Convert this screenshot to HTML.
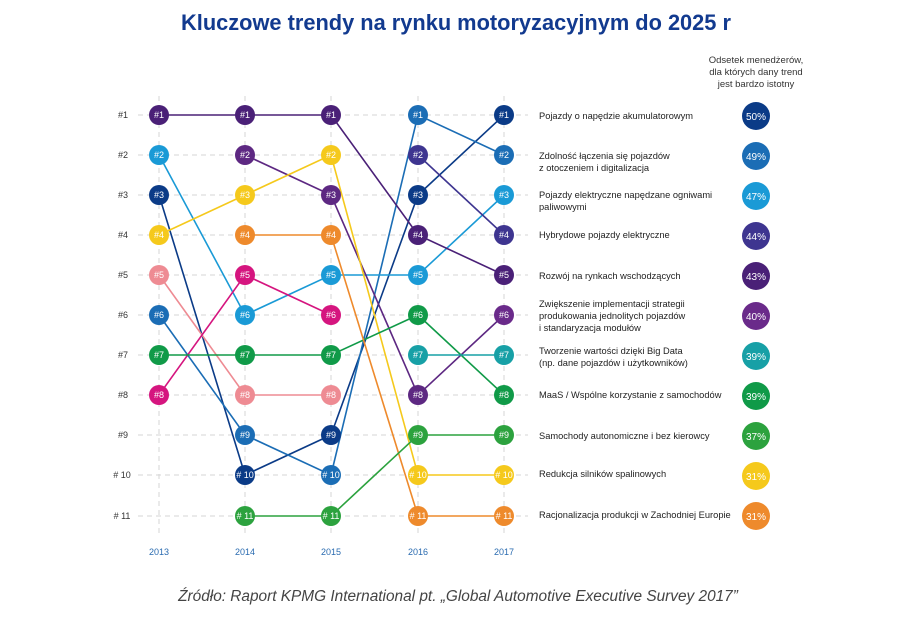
<!DOCTYPE html><html><head><meta charset="utf-8"><style>body{margin:0;background:#fff}svg{display:block}text{font-family:"Liberation Sans",sans-serif}</style></head><body>
<svg width="912" height="633" viewBox="0 0 912 633" xmlns="http://www.w3.org/2000/svg">
<text x="456" y="30" text-anchor="middle" font-size="21.8" font-weight="bold" fill="#123a8f">Kluczowe trendy na rynku motoryzacyjnym do 2025 r</text>
<g font-size="9.5" fill="#333" text-anchor="middle"><text x="756" y="63">Odsetek menedżerów,</text><text x="756" y="75">dla których dany trend</text><text x="756" y="87">jest bardzo istotny</text></g>
<g stroke="#d6d6d6" stroke-dasharray="5,4" stroke-width="1">
<line x1="138" x2="528" y1="115" y2="115"/><line x1="138" x2="528" y1="155" y2="155"/><line x1="138" x2="528" y1="195" y2="195"/><line x1="138" x2="528" y1="235" y2="235"/><line x1="138" x2="528" y1="275" y2="275"/><line x1="138" x2="528" y1="315" y2="315"/><line x1="138" x2="528" y1="355" y2="355"/><line x1="138" x2="528" y1="395" y2="395"/><line x1="138" x2="528" y1="435" y2="435"/><line x1="138" x2="528" y1="475" y2="475"/><line x1="138" x2="528" y1="516" y2="516"/>
<line x1="159" x2="159" y1="96" y2="535"/><line x1="245" x2="245" y1="96" y2="535"/><line x1="331" x2="331" y1="96" y2="535"/><line x1="418" x2="418" y1="96" y2="535"/><line x1="504" x2="504" y1="96" y2="535"/>
</g>
<g font-size="9" fill="#333" text-anchor="middle">
<text x="123" y="118">#1</text><text x="123" y="158">#2</text><text x="123" y="198">#3</text><text x="123" y="238">#4</text><text x="123" y="278">#5</text><text x="123" y="318">#6</text><text x="123" y="358">#7</text><text x="123" y="398">#8</text><text x="123" y="438">#9</text><text x="122" y="478"># 10</text><text x="122" y="519"># 11</text>
</g>
<g font-size="9" fill="#2a6bb0" text-anchor="middle"><text x="159" y="555">2013</text><text x="245" y="555">2014</text><text x="331" y="555">2015</text><text x="418" y="555">2016</text><text x="504" y="555">2017</text></g>
<g fill="none" stroke-width="1.6">
<polyline stroke="#0b3b87" points="159,195 245,475 331,435 418,195 504,115"/>
<polyline stroke="#1b6db5" points="159,315 245,435 331,475 418,115 504,155"/>
<polyline stroke="#1a9ad6" points="159,155 245,315 331,275 418,275 504,195"/>
<polyline stroke="#4a2077" points="159,115 245,115 331,115 418,235 504,275"/>
<polyline stroke="#5d2882" points="245,155 331,195 418,395 504,315"/>
<polyline stroke="#3e3590" points="418,155 504,235"/>
<polyline stroke="#f5c91c" points="159,235 245,195 331,155 418,475 504,475"/>
<polyline stroke="#ee8b93" points="159,275 245,395 331,395"/>
<polyline stroke="#d5157f" points="159,395 245,275 331,315"/>
<polyline stroke="#109a48" points="159,355 245,355 331,355 418,315 504,395"/>
<polyline stroke="#ee8a2c" points="245,235 331,235 418,516 504,516"/>
<polyline stroke="#2ca23e" points="245,516 331,516 418,435 504,435"/>
<polyline stroke="#17a0a6" points="418,355 504,355"/>
</g>
<g font-size="9" fill="#fff" text-anchor="middle">
<circle cx="159" cy="115" r="10" fill="#4a2077"/><text x="159" y="118">#1</text>
<circle cx="159" cy="155" r="10" fill="#1a9ad6"/><text x="159" y="158">#2</text>
<circle cx="159" cy="195" r="10" fill="#0b3b87"/><text x="159" y="198">#3</text>
<circle cx="159" cy="235" r="10" fill="#f5c91c"/><text x="159" y="238">#4</text>
<circle cx="159" cy="275" r="10" fill="#ee8b93"/><text x="159" y="278">#5</text>
<circle cx="159" cy="315" r="10" fill="#1b6db5"/><text x="159" y="318">#6</text>
<circle cx="159" cy="355" r="10" fill="#109a48"/><text x="159" y="358">#7</text>
<circle cx="159" cy="395" r="10" fill="#d5157f"/><text x="159" y="398">#8</text>
<circle cx="245" cy="115" r="10" fill="#4a2077"/><text x="245" y="118">#1</text>
<circle cx="245" cy="155" r="10" fill="#5d2882"/><text x="245" y="158">#2</text>
<circle cx="245" cy="195" r="10" fill="#f5c91c"/><text x="245" y="198">#3</text>
<circle cx="245" cy="235" r="10" fill="#ee8a2c"/><text x="245" y="238">#4</text>
<circle cx="245" cy="275" r="10" fill="#d5157f"/><text x="245" y="278">#5</text>
<circle cx="245" cy="315" r="10" fill="#1a9ad6"/><text x="245" y="318">#6</text>
<circle cx="245" cy="355" r="10" fill="#109a48"/><text x="245" y="358">#7</text>
<circle cx="245" cy="395" r="10" fill="#ee8b93"/><text x="245" y="398">#8</text>
<circle cx="245" cy="435" r="10" fill="#1b6db5"/><text x="245" y="438">#9</text>
<circle cx="245" cy="475" r="10" fill="#0b3b87"/><text x="245" y="478"># 10</text>
<circle cx="245" cy="516" r="10" fill="#2ca23e"/><text x="245" y="519"># 11</text>
<circle cx="331" cy="115" r="10" fill="#4a2077"/><text x="331" y="118">#1</text>
<circle cx="331" cy="155" r="10" fill="#f5c91c"/><text x="331" y="158">#2</text>
<circle cx="331" cy="195" r="10" fill="#5d2882"/><text x="331" y="198">#3</text>
<circle cx="331" cy="235" r="10" fill="#ee8a2c"/><text x="331" y="238">#4</text>
<circle cx="331" cy="275" r="10" fill="#1a9ad6"/><text x="331" y="278">#5</text>
<circle cx="331" cy="315" r="10" fill="#d5157f"/><text x="331" y="318">#6</text>
<circle cx="331" cy="355" r="10" fill="#109a48"/><text x="331" y="358">#7</text>
<circle cx="331" cy="395" r="10" fill="#ee8b93"/><text x="331" y="398">#8</text>
<circle cx="331" cy="435" r="10" fill="#0b3b87"/><text x="331" y="438">#9</text>
<circle cx="331" cy="475" r="10" fill="#1b6db5"/><text x="331" y="478"># 10</text>
<circle cx="331" cy="516" r="10" fill="#2ca23e"/><text x="331" y="519"># 11</text>
<circle cx="418" cy="115" r="10" fill="#1b6db5"/><text x="418" y="118">#1</text>
<circle cx="418" cy="155" r="10" fill="#3e3590"/><text x="418" y="158">#2</text>
<circle cx="418" cy="195" r="10" fill="#0b3b87"/><text x="418" y="198">#3</text>
<circle cx="418" cy="235" r="10" fill="#4a2077"/><text x="418" y="238">#4</text>
<circle cx="418" cy="275" r="10" fill="#1a9ad6"/><text x="418" y="278">#5</text>
<circle cx="418" cy="315" r="10" fill="#109a48"/><text x="418" y="318">#6</text>
<circle cx="418" cy="355" r="10" fill="#17a0a6"/><text x="418" y="358">#7</text>
<circle cx="418" cy="395" r="10" fill="#5d2882"/><text x="418" y="398">#8</text>
<circle cx="418" cy="435" r="10" fill="#2ca23e"/><text x="418" y="438">#9</text>
<circle cx="418" cy="475" r="10" fill="#f5c91c"/><text x="418" y="478"># 10</text>
<circle cx="418" cy="516" r="10" fill="#ee8a2c"/><text x="418" y="519"># 11</text>
<circle cx="504" cy="115" r="10" fill="#0b3b87"/><text x="504" y="118">#1</text>
<circle cx="504" cy="155" r="10" fill="#1b6db5"/><text x="504" y="158">#2</text>
<circle cx="504" cy="195" r="10" fill="#1a9ad6"/><text x="504" y="198">#3</text>
<circle cx="504" cy="235" r="10" fill="#3e3590"/><text x="504" y="238">#4</text>
<circle cx="504" cy="275" r="10" fill="#4a2077"/><text x="504" y="278">#5</text>
<circle cx="504" cy="315" r="10" fill="#6a2a8a"/><text x="504" y="318">#6</text>
<circle cx="504" cy="355" r="10" fill="#17a0a6"/><text x="504" y="358">#7</text>
<circle cx="504" cy="395" r="10" fill="#109a48"/><text x="504" y="398">#8</text>
<circle cx="504" cy="435" r="10" fill="#2ca23e"/><text x="504" y="438">#9</text>
<circle cx="504" cy="475" r="10" fill="#f5c91c"/><text x="504" y="478"># 10</text>
<circle cx="504" cy="516" r="10" fill="#ee8a2c"/><text x="504" y="519"># 11</text>
</g>
<g font-size="9.3" fill="#222">
<text x="539" y="119">Pojazdy o napędzie akumulatorowym</text>
<text x="539" y="159">Zdolność łączenia się pojazdów</text><text x="539" y="171">z otoczeniem i digitalizacja</text>
<text x="539" y="198">Pojazdy elektryczne napędzane ogniwami</text><text x="539" y="210">paliwowymi</text>
<text x="539" y="238">Hybrydowe pojazdy elektryczne</text>
<text x="539" y="279">Rozwój na rynkach wschodzących</text>
<text x="539" y="307">Zwiększenie implementacji strategii</text><text x="539" y="319">produkowania jednolitych pojazdów</text><text x="539" y="331">i standaryzacja modułów</text>
<text x="539" y="354">Tworzenie wartości dzięki Big Data</text><text x="539" y="366">(np. dane pojazdów i użytkowników)</text>
<text x="539" y="398">MaaS / Wspólne korzystanie z samochodów</text>
<text x="539" y="439">Samochody autonomiczne i bez kierowcy</text>
<text x="539" y="477">Redukcja silników spalinowych</text>
<text x="539" y="518">Racjonalizacja produkcji w Zachodniej Europie</text>
</g>
<g font-size="10" fill="#fff" text-anchor="middle">
<circle cx="756" cy="116" r="14" fill="#0b3b87"/><text x="756" y="120">50%</text>
<circle cx="756" cy="156" r="14" fill="#1b6db5"/><text x="756" y="160">49%</text>
<circle cx="756" cy="196" r="14" fill="#1a9ad6"/><text x="756" y="200">47%</text>
<circle cx="756" cy="236" r="14" fill="#3e3590"/><text x="756" y="240">44%</text>
<circle cx="756" cy="276" r="14" fill="#4a2077"/><text x="756" y="280">43%</text>
<circle cx="756" cy="316" r="14" fill="#6a2a8a"/><text x="756" y="320">40%</text>
<circle cx="756" cy="356" r="14" fill="#17a0a6"/><text x="756" y="360">39%</text>
<circle cx="756" cy="396" r="14" fill="#109a48"/><text x="756" y="400">39%</text>
<circle cx="756" cy="436" r="14" fill="#2ca23e"/><text x="756" y="440">37%</text>
<circle cx="756" cy="476" r="14" fill="#f5c91c"/><text x="756" y="480">31%</text>
<circle cx="756" cy="516" r="14" fill="#ee8a2c"/><text x="756" y="520">31%</text>
</g>
<text x="458" y="601" text-anchor="middle" font-size="15.4" font-style="italic" fill="#444">Źródło: Raport KPMG International pt. „Global Automotive Executive Survey 2017”</text>
</svg>
</body></html>
